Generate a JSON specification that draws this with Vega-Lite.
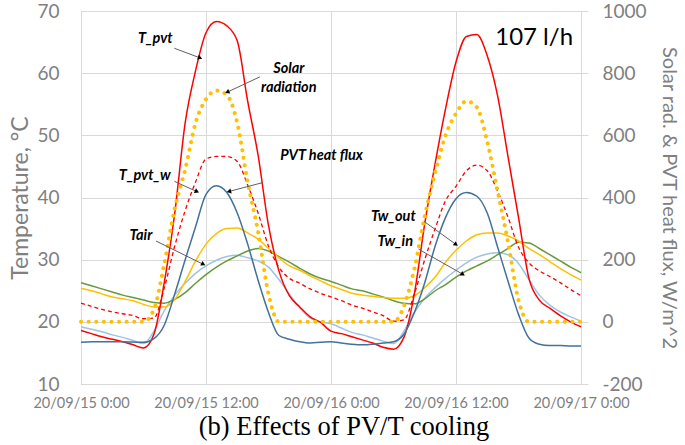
{
  "$schema": "https://vega.github.io/schema/vega-lite/v6.json",
  "width": 500,
  "height": 373,
  "autosize": {"type": "none"},
  "padding": {"left": 81, "top": 11, "right": 104, "bottom": 61},
  "background": "white",
  "config": {
    "view": {"stroke": "#B6C8A0", "strokeWidth": 1},
    "font": "Lato",
    "axisX": {"grid": true, "gridColor": "#D9D9D9", "gridWidth": 1, "ticks": false, "domain": false, "labelFont": "Lato", "labelFontSize": 14.5, "labelColor": "#808080", "labelPadding": 12, "labelFlush": false, "labelOverlap": false}
  },
  "title": {"text": "(b) Effects of PV/T cooling", "orient": "bottom", "anchor": "middle", "frame": "bounds", "font": "Liberation Serif", "fontSize": 26.5, "fontWeight": "normal", "color": "#000000", "offset": 4},
  "datasets": {
    "series": [
      {"t": "2020-09-15T00:00", "T_pvt": 18.6, "T_pvt_w": 23.0, "Tw_out": 25.4, "Tw_in": 26.3, "Tair": 19.2, "Flux": -66, "Solar": 0},
      {"t": "2020-09-15T01:00", "T_pvt": 18.1, "T_pvt_w": 22.5, "Tw_out": 25.0, "Tw_in": 25.8, "Tair": 18.8, "Flux": -64, "Solar": 0},
      {"t": "2020-09-15T02:00", "T_pvt": 17.6, "T_pvt_w": 22.0, "Tw_out": 24.5, "Tw_in": 25.3, "Tair": 18.4, "Flux": -64, "Solar": 0},
      {"t": "2020-09-15T03:00", "T_pvt": 17.2, "T_pvt_w": 21.6, "Tw_out": 24.0, "Tw_in": 24.8, "Tair": 17.9, "Flux": -64, "Solar": 0},
      {"t": "2020-09-15T04:00", "T_pvt": 16.8, "T_pvt_w": 21.3, "Tw_out": 23.7, "Tw_in": 24.3, "Tair": 17.5, "Flux": -64, "Solar": 0},
      {"t": "2020-09-15T05:00", "T_pvt": 16.3, "T_pvt_w": 21.0, "Tw_out": 23.4, "Tw_in": 23.9, "Tair": 17.0, "Flux": -65, "Solar": 0},
      {"t": "2020-09-15T06:00", "T_pvt": 15.8, "T_pvt_w": 20.5, "Tw_out": 22.8, "Tw_in": 23.5, "Tair": 16.5, "Flux": -66, "Solar": 0},
      {"t": "2020-09-15T07:00", "T_pvt": 18.0, "T_pvt_w": 20.6, "Tw_out": 22.4, "Tw_in": 23.1, "Tair": 18.5, "Flux": -54, "Solar": 40},
      {"t": "2020-09-15T08:00", "T_pvt": 26.4, "T_pvt_w": 25.5, "Tw_out": 22.4, "Tw_in": 23.0, "Tair": 21.8, "Flux": -10, "Solar": 188},
      {"t": "2020-09-15T09:00", "T_pvt": 37.5, "T_pvt_w": 32.2, "Tw_out": 23.6, "Tw_in": 23.6, "Tair": 24.3, "Flux": 90, "Solar": 365},
      {"t": "2020-09-15T10:00", "T_pvt": 52.0, "T_pvt_w": 37.9, "Tw_out": 26.5, "Tw_in": 24.7, "Tair": 26.2, "Flux": 200, "Solar": 490},
      {"t": "2020-09-15T11:00", "T_pvt": 60.4, "T_pvt_w": 42.5, "Tw_out": 29.8, "Tw_in": 26.2, "Tair": 27.8, "Flux": 306, "Solar": 640},
      {"t": "2020-09-15T12:00", "T_pvt": 66.5, "T_pvt_w": 46.2, "Tw_out": 32.5, "Tw_in": 27.6, "Tair": 29.0, "Flux": 410, "Solar": 716},
      {"t": "2020-09-15T13:00", "T_pvt": 68.3, "T_pvt_w": 46.6, "Tw_out": 34.2, "Tw_in": 28.8, "Tair": 29.9, "Flux": 438, "Solar": 744},
      {"t": "2020-09-15T14:00", "T_pvt": 67.6, "T_pvt_w": 46.6, "Tw_out": 35.0, "Tw_in": 29.8, "Tair": 30.5, "Flux": 416, "Solar": 730},
      {"t": "2020-09-15T15:00", "T_pvt": 65.2, "T_pvt_w": 45.8, "Tw_out": 35.1, "Tw_in": 30.6, "Tair": 30.7, "Flux": 350, "Solar": 640},
      {"t": "2020-09-15T16:00", "T_pvt": 55.5, "T_pvt_w": 42.0, "Tw_out": 34.3, "Tw_in": 31.4, "Tair": 30.3, "Flux": 250, "Solar": 450},
      {"t": "2020-09-15T17:00", "T_pvt": 46.8, "T_pvt_w": 37.5, "Tw_out": 33.3, "Tw_in": 31.8, "Tair": 29.8, "Flux": 134, "Solar": 290},
      {"t": "2020-09-15T18:00", "T_pvt": 35.5, "T_pvt_w": 32.2, "Tw_out": 31.8, "Tw_in": 31.4, "Tair": 28.8, "Flux": 30, "Solar": 90},
      {"t": "2020-09-15T19:00", "T_pvt": 28.2, "T_pvt_w": 28.8, "Tw_out": 30.3, "Tw_in": 30.5, "Tair": 26.8, "Flux": -44, "Solar": 0},
      {"t": "2020-09-15T20:00", "T_pvt": 24.2, "T_pvt_w": 27.0, "Tw_out": 29.0, "Tw_in": 29.6, "Tair": 24.5, "Flux": -56, "Solar": 0},
      {"t": "2020-09-15T21:00", "T_pvt": 22.4, "T_pvt_w": 26.2, "Tw_out": 28.3, "Tw_in": 28.6, "Tair": 22.3, "Flux": -64, "Solar": 0},
      {"t": "2020-09-15T22:00", "T_pvt": 20.8, "T_pvt_w": 25.3, "Tw_out": 27.4, "Tw_in": 27.7, "Tair": 20.6, "Flux": -68, "Solar": 0},
      {"t": "2020-09-15T23:00", "T_pvt": 19.9, "T_pvt_w": 24.6, "Tw_out": 26.6, "Tw_in": 27.0, "Tair": 20.0, "Flux": -66, "Solar": 0},
      {"t": "2020-09-16T00:00", "T_pvt": 18.5, "T_pvt_w": 24.0, "Tw_out": 25.8, "Tw_in": 26.5, "Tair": 19.7, "Flux": -64, "Solar": 0},
      {"t": "2020-09-16T01:00", "T_pvt": 18.1, "T_pvt_w": 23.4, "Tw_out": 25.2, "Tw_in": 25.9, "Tair": 19.0, "Flux": -68, "Solar": 0},
      {"t": "2020-09-16T02:00", "T_pvt": 17.6, "T_pvt_w": 22.7, "Tw_out": 24.6, "Tw_in": 25.3, "Tair": 18.3, "Flux": -72, "Solar": 0},
      {"t": "2020-09-16T03:00", "T_pvt": 17.1, "T_pvt_w": 22.2, "Tw_out": 24.3, "Tw_in": 25.0, "Tair": 17.9, "Flux": -74, "Solar": 0},
      {"t": "2020-09-16T04:00", "T_pvt": 16.6, "T_pvt_w": 21.6, "Tw_out": 24.1, "Tw_in": 24.5, "Tair": 17.4, "Flux": -72, "Solar": 0},
      {"t": "2020-09-16T05:00", "T_pvt": 15.9, "T_pvt_w": 21.0, "Tw_out": 23.9, "Tw_in": 24.0, "Tair": 16.9, "Flux": -68, "Solar": 0},
      {"t": "2020-09-16T06:00", "T_pvt": 15.6, "T_pvt_w": 20.1, "Tw_out": 23.8, "Tw_in": 23.4, "Tair": 16.5, "Flux": -64, "Solar": 0},
      {"t": "2020-09-16T07:00", "T_pvt": 17.5, "T_pvt_w": 20.3, "Tw_out": 23.8, "Tw_in": 23.0, "Tair": 18.5, "Flux": -40, "Solar": 50},
      {"t": "2020-09-16T08:00", "T_pvt": 24.5, "T_pvt_w": 24.5, "Tw_out": 24.2, "Tw_in": 22.9, "Tair": 21.5, "Flux": 30, "Solar": 170},
      {"t": "2020-09-16T09:00", "T_pvt": 35.8, "T_pvt_w": 30.0, "Tw_out": 25.5, "Tw_in": 23.7, "Tair": 23.8, "Flux": 126, "Solar": 340},
      {"t": "2020-09-16T10:00", "T_pvt": 45.5, "T_pvt_w": 35.0, "Tw_out": 27.2, "Tw_in": 25.0, "Tair": 25.5, "Flux": 244, "Solar": 480},
      {"t": "2020-09-16T11:00", "T_pvt": 54.3, "T_pvt_w": 39.5, "Tw_out": 29.6, "Tw_in": 26.0, "Tair": 27.0, "Flux": 336, "Solar": 600},
      {"t": "2020-09-16T12:00", "T_pvt": 61.8, "T_pvt_w": 41.8, "Tw_out": 31.5, "Tw_in": 27.2, "Tair": 28.3, "Flux": 396, "Solar": 670},
      {"t": "2020-09-16T13:00", "T_pvt": 65.9, "T_pvt_w": 44.3, "Tw_out": 33.0, "Tw_in": 28.2, "Tair": 29.5, "Flux": 416, "Solar": 710},
      {"t": "2020-09-16T14:00", "T_pvt": 66.2, "T_pvt_w": 45.2, "Tw_out": 34.0, "Tw_in": 29.0, "Tair": 30.4, "Flux": 404, "Solar": 690},
      {"t": "2020-09-16T15:00", "T_pvt": 62.8, "T_pvt_w": 44.3, "Tw_out": 34.3, "Tw_in": 29.8, "Tair": 30.9, "Flux": 350, "Solar": 580},
      {"t": "2020-09-16T16:00", "T_pvt": 56.3, "T_pvt_w": 41.0, "Tw_out": 34.3, "Tw_in": 30.8, "Tair": 31.1, "Flux": 240, "Solar": 420},
      {"t": "2020-09-16T17:00", "T_pvt": 46.5, "T_pvt_w": 36.8, "Tw_out": 33.8, "Tw_in": 31.8, "Tair": 30.8, "Flux": 130, "Solar": 255},
      {"t": "2020-09-16T18:00", "T_pvt": 36.8, "T_pvt_w": 32.0, "Tw_out": 33.0, "Tw_in": 32.8, "Tair": 29.4, "Flux": 24, "Solar": 70},
      {"t": "2020-09-16T19:00", "T_pvt": 27.0, "T_pvt_w": 29.5, "Tw_out": 31.8, "Tw_in": 32.7, "Tair": 26.8, "Flux": -52, "Solar": 0},
      {"t": "2020-09-16T20:00", "T_pvt": 23.5, "T_pvt_w": 28.2, "Tw_out": 30.8, "Tw_in": 31.8, "Tair": 24.3, "Flux": -72, "Solar": 0},
      {"t": "2020-09-16T21:00", "T_pvt": 22.2, "T_pvt_w": 27.3, "Tw_out": 29.7, "Tw_in": 30.8, "Tair": 22.7, "Flux": -76, "Solar": 0},
      {"t": "2020-09-16T22:00", "T_pvt": 21.0, "T_pvt_w": 26.3, "Tw_out": 28.6, "Tw_in": 29.8, "Tair": 21.6, "Flux": -76, "Solar": 0},
      {"t": "2020-09-16T23:00", "T_pvt": 20.0, "T_pvt_w": 25.2, "Tw_out": 27.6, "Tw_in": 28.8, "Tair": 20.8, "Flux": -78, "Solar": 0},
      {"t": "2020-09-17T00:00", "T_pvt": 19.2, "T_pvt_w": 24.2, "Tw_out": 26.7, "Tw_in": 27.9, "Tair": 20.1, "Flux": -78, "Solar": 0}
    ],
    "ticks": [
      {"g": "2020-09-15T12:00"},
      {"g": "2020-09-16T00:00"},
      {"g": "2020-09-16T12:00"}
    ],
    "arrows": [
      {"label": "T_pvt", "t1": "2020-09-15T08:58", "v1": 64.0, "t2": "2020-09-15T11:22", "v2": 62.5},
      {"label": "Solar", "t1": "2020-09-15T17:10", "v1": 59.4, "t2": "2020-09-15T14:06", "v2": 57.0},
      {"label": "T_pvt_w", "t1": "2020-09-15T08:58", "v1": 42.6, "t2": "2020-09-15T11:04", "v2": 41.0},
      {"label": "PVT", "t1": "2020-09-15T17:27", "v1": 42.4, "t2": "2020-09-15T14:16", "v2": 41.0},
      {"label": "Tair", "t1": "2020-09-15T07:12", "v1": 33.0, "t2": "2020-09-15T11:41", "v2": 29.3},
      {"label": "Tw_out", "t1": "2020-09-16T08:54", "v1": 36.2, "t2": "2020-09-16T11:57", "v2": 32.5},
      {"label": "Tw_in", "t1": "2020-09-16T08:24", "v1": 31.7, "t2": "2020-09-16T12:36", "v2": 27.7}
    ],
    "labels": [
      {"text": "T_pvt", "t": "2020-09-15T07:08", "v": 65.5},
      {"text": "Solar\nradiation", "t": "2020-09-15T19:57", "v": 60.7},
      {"text": "T_pvt_w", "t": "2020-09-15T06:07", "v": 43.4},
      {"text": "PVT heat flux", "t": "2020-09-15T23:06", "v": 46.7},
      {"text": "Tair", "t": "2020-09-15T05:45", "v": 33.8},
      {"text": "Tw_out", "t": "2020-09-16T05:59", "v": 36.8},
      {"text": "Tw_in", "t": "2020-09-16T06:10", "v": 32.8}
    ],
    "flow": [
      {"text": "107 l/h", "t": "2020-09-16T19:30", "v": 65.6}
    ]
  },
  "layer": [
    {
      "data": {"name": "ticks"},
      "mark": {"type": "rule", "color": "#D9D9D9", "strokeWidth": 1, "xOffset": 0.5},
      "encoding": {
        "x": {"field": "g", "type": "temporal",
          "scale": {"domain": [{"year": 2020, "month": 9, "date": 15}, {"year": 2020, "month": 9, "date": 17}], "nice": false},
          "axis": {"title": null, "format": "%y/%m/%d %-H:%M", "grid": true, "values": [{"year": 2020, "month": 9, "date": 15, "hours": 0}, {"year": 2020, "month": 9, "date": 15, "hours": 12}, {"year": 2020, "month": 9, "date": 16, "hours": 0}, {"year": 2020, "month": 9, "date": 16, "hours": 12}, {"year": 2020, "month": 9, "date": 17, "hours": 0}]}}
      }
    },
    {
      "data": {"name": "series"},
      "mark": {"type": "line", "color": "#9DC3E6", "strokeWidth": 1.5, "interpolate": "monotone"},
      "encoding": {
        "x": {"field": "t", "type": "temporal", "axis": {"title": null, "format": "%y/%m/%d %-H:%M", "grid": true, "values": [{"year": 2020, "month": 9, "date": 15, "hours": 0}, {"year": 2020, "month": 9, "date": 15, "hours": 12}, {"year": 2020, "month": 9, "date": 16, "hours": 0}, {"year": 2020, "month": 9, "date": 16, "hours": 12}, {"year": 2020, "month": 9, "date": 17, "hours": 0}]}},
        "y": {"field": "Tair", "type": "quantitative",
          "scale": {"domain": [10, 70], "nice": false},
          "axis": {"orient": "left", "title": "Temperature, °C", "values": [10, 20, 30, 40, 50, 60, 70], "labelFont": "Lato", "labelFontSize": 19, "labelColor": "#808080", "labelPadding": 22, "ticks": false, "domain": false, "grid": true, "gridColor": "#D9D9D9", "titleFont": "Lato", "titleFontSize": 23, "titleFontWeight": "normal", "titleColor": "#808080", "titlePadding": 4}}
      }
    },
    {
      "data": {"name": "series"},
      "mark": {"type": "line", "color": "#679A3E", "strokeWidth": 1.5, "interpolate": "monotone"},
      "encoding": {
        "x": {"field": "t", "type": "temporal", "axis": {"title": null, "format": "%y/%m/%d %-H:%M", "grid": true, "values": [{"year": 2020, "month": 9, "date": 15, "hours": 0}, {"year": 2020, "month": 9, "date": 15, "hours": 12}, {"year": 2020, "month": 9, "date": 16, "hours": 0}, {"year": 2020, "month": 9, "date": 16, "hours": 12}, {"year": 2020, "month": 9, "date": 17, "hours": 0}]}},
        "y": {"field": "Tw_in", "type": "quantitative", "scale": {"domain": [10, 70], "nice": false}, "axis": null}
      }
    },
    {
      "data": {"name": "series"},
      "mark": {"type": "line", "color": "#FFC000", "strokeWidth": 1.5, "interpolate": "monotone"},
      "encoding": {
        "x": {"field": "t", "type": "temporal", "axis": {"title": null, "format": "%y/%m/%d %-H:%M", "grid": true, "values": [{"year": 2020, "month": 9, "date": 15, "hours": 0}, {"year": 2020, "month": 9, "date": 15, "hours": 12}, {"year": 2020, "month": 9, "date": 16, "hours": 0}, {"year": 2020, "month": 9, "date": 16, "hours": 12}, {"year": 2020, "month": 9, "date": 17, "hours": 0}]}},
        "y": {"field": "Tw_out", "type": "quantitative", "scale": {"domain": [10, 70], "nice": false}, "axis": null}
      }
    },
    {
      "data": {"name": "series"},
      "mark": {"type": "line", "color": "#FF0000", "strokeWidth": 1.3, "strokeDash": [4, 3], "interpolate": "monotone"},
      "encoding": {
        "x": {"field": "t", "type": "temporal", "axis": {"title": null, "format": "%y/%m/%d %-H:%M", "grid": true, "values": [{"year": 2020, "month": 9, "date": 15, "hours": 0}, {"year": 2020, "month": 9, "date": 15, "hours": 12}, {"year": 2020, "month": 9, "date": 16, "hours": 0}, {"year": 2020, "month": 9, "date": 16, "hours": 12}, {"year": 2020, "month": 9, "date": 17, "hours": 0}]}},
        "y": {"field": "T_pvt_w", "type": "quantitative", "scale": {"domain": [10, 70], "nice": false}, "axis": null}
      }
    },
    {
      "data": {"name": "series"},
      "mark": {"type": "line", "color": "#FF0000", "strokeWidth": 1.5, "interpolate": "monotone"},
      "encoding": {
        "x": {"field": "t", "type": "temporal", "axis": {"title": null, "format": "%y/%m/%d %-H:%M", "grid": true, "values": [{"year": 2020, "month": 9, "date": 15, "hours": 0}, {"year": 2020, "month": 9, "date": 15, "hours": 12}, {"year": 2020, "month": 9, "date": 16, "hours": 0}, {"year": 2020, "month": 9, "date": 16, "hours": 12}, {"year": 2020, "month": 9, "date": 17, "hours": 0}]}},
        "y": {"field": "T_pvt", "type": "quantitative", "scale": {"domain": [10, 70], "nice": false}, "axis": null}
      }
    },
    {
      "data": {"name": "series"},
      "mark": {"type": "line", "color": "#41719C", "strokeWidth": 1.5, "interpolate": "monotone"},
      "encoding": {
        "x": {"field": "t", "type": "temporal", "axis": {"title": null, "format": "%y/%m/%d %-H:%M", "grid": true, "values": [{"year": 2020, "month": 9, "date": 15, "hours": 0}, {"year": 2020, "month": 9, "date": 15, "hours": 12}, {"year": 2020, "month": 9, "date": 16, "hours": 0}, {"year": 2020, "month": 9, "date": 16, "hours": 12}, {"year": 2020, "month": 9, "date": 17, "hours": 0}]}},
        "y": {"field": "Flux", "type": "quantitative",
          "scale": {"domain": [-200, 1000], "nice": false},
          "axis": {"orient": "right", "title": "Solar rad. & PVT heat flux, W/m^2", "values": [-200, 0, 200, 400, 600, 800, 1000], "labelExpr": "'' + datum.value", "labelFont": "Lato", "labelFontSize": 19, "labelColor": "#808080", "labelPadding": 14, "ticks": true, "tickSize": 7, "tickColor": "#D9D9D9", "domain": false, "grid": false, "titleFont": "Lato", "titleFontSize": 20, "titleFontWeight": "normal", "titleColor": "#808080", "titlePadding": 12}}
      }
    },
    {
      "data": {"name": "series"},
      "mark": {"type": "line", "color": "#FFC000", "strokeWidth": 4, "strokeDash": [0.1, 7.5], "strokeCap": "round", "interpolate": "monotone"},
      "encoding": {
        "x": {"field": "t", "type": "temporal", "axis": {"title": null, "format": "%y/%m/%d %-H:%M", "grid": true, "values": [{"year": 2020, "month": 9, "date": 15, "hours": 0}, {"year": 2020, "month": 9, "date": 15, "hours": 12}, {"year": 2020, "month": 9, "date": 16, "hours": 0}, {"year": 2020, "month": 9, "date": 16, "hours": 12}, {"year": 2020, "month": 9, "date": 17, "hours": 0}]}},
        "y": {"field": "Solar", "type": "quantitative", "scale": {"domain": [-200, 1000], "nice": false}, "axis": null}
      }
    },
    {
      "data": {"name": "arrows"},
      "mark": {"type": "rule", "color": "#606060", "strokeWidth": 1},
      "encoding": {
        "x": {"field": "t1", "type": "temporal", "axis": {"title": null, "format": "%y/%m/%d %-H:%M", "grid": true, "values": [{"year": 2020, "month": 9, "date": 15, "hours": 0}, {"year": 2020, "month": 9, "date": 15, "hours": 12}, {"year": 2020, "month": 9, "date": 16, "hours": 0}, {"year": 2020, "month": 9, "date": 16, "hours": 12}, {"year": 2020, "month": 9, "date": 17, "hours": 0}]}},
        "y": {"field": "v1", "type": "quantitative", "scale": {"domain": [10, 70], "nice": false}, "axis": null},
        "x2": {"field": "t2"},
        "y2": {"field": "v2"}
      }
    },
    {
      "data": {"name": "arrows"},
      "mark": {"type": "point", "shape": "triangle", "filled": true, "color": "#000000", "size": 26, "opacity": 1},
      "encoding": {
        "x": {"field": "t2", "type": "temporal", "axis": {"title": null, "format": "%y/%m/%d %-H:%M", "grid": true, "values": [{"year": 2020, "month": 9, "date": 15, "hours": 0}, {"year": 2020, "month": 9, "date": 15, "hours": 12}, {"year": 2020, "month": 9, "date": 16, "hours": 0}, {"year": 2020, "month": 9, "date": 16, "hours": 12}, {"year": 2020, "month": 9, "date": 17, "hours": 0}]}},
        "y": {"field": "v2", "type": "quantitative", "scale": {"domain": [10, 70], "nice": false}, "axis": null},
        "angle": {"field": "label", "type": "nominal", "legend": null,
          "scale": {"type": "ordinal", "domain": ["T_pvt", "Solar", "T_pvt_w", "PVT", "Tair", "Tw_out", "Tw_in"], "range": [110, 245, 115, 256, 117, 126, 120]}}
      }
    },
    {
      "data": {"name": "labels"},
      "mark": {"type": "text", "font": "Lato", "fontSize": 14.5, "fontWeight": "bold", "fontStyle": "italic", "color": "#000000", "lineBreak": "\n", "lineHeight": 19, "align": "center", "baseline": "middle"},
      "encoding": {
        "x": {"field": "t", "type": "temporal", "axis": {"title": null, "format": "%y/%m/%d %-H:%M", "grid": true, "values": [{"year": 2020, "month": 9, "date": 15, "hours": 0}, {"year": 2020, "month": 9, "date": 15, "hours": 12}, {"year": 2020, "month": 9, "date": 16, "hours": 0}, {"year": 2020, "month": 9, "date": 16, "hours": 12}, {"year": 2020, "month": 9, "date": 17, "hours": 0}]}},
        "y": {"field": "v", "type": "quantitative", "scale": {"domain": [10, 70], "nice": false}, "axis": null},
        "text": {"field": "text"}
      }
    },
    {
      "data": {"name": "flow"},
      "mark": {"type": "text", "font": "Lato", "fontSize": 24, "color": "#000000", "align": "center", "baseline": "middle"},
      "encoding": {
        "x": {"field": "t", "type": "temporal", "axis": {"title": null, "format": "%y/%m/%d %-H:%M", "grid": true, "values": [{"year": 2020, "month": 9, "date": 15, "hours": 0}, {"year": 2020, "month": 9, "date": 15, "hours": 12}, {"year": 2020, "month": 9, "date": 16, "hours": 0}, {"year": 2020, "month": 9, "date": 16, "hours": 12}, {"year": 2020, "month": 9, "date": 17, "hours": 0}]}},
        "y": {"field": "v", "type": "quantitative", "scale": {"domain": [10, 70], "nice": false}, "axis": null},
        "text": {"field": "text"}
      }
    }
  ],
  "resolve": {"scale": {"y": "independent"}}
}
